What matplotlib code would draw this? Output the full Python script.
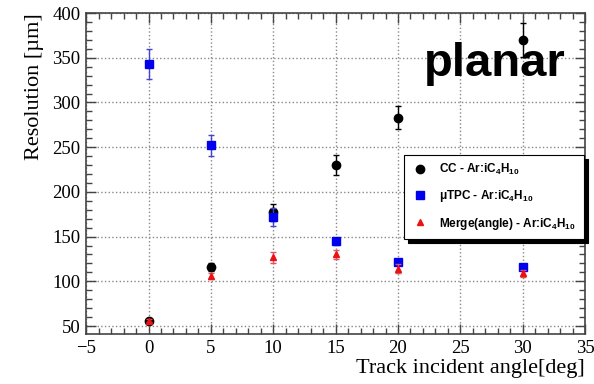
import matplotlib
matplotlib.use("Agg")
import matplotlib.pyplot as plt
from matplotlib.ticker import MultipleLocator
from matplotlib.lines import Line2D

angles = [0, 5, 10, 15, 20, 30]
cc_res = [56, 116, 177, 230, 283, 370]
cc_err = [2, 4, 9, 11, 13, 19]
utpc_res = [343, 252, 172, 145, 122, 116]
utpc_err = [17, 12, 10, 4, 3, 3]
merge_res = [56, 106, 127, 130, 114, 109]
merge_err = [2, 3, 6, 5, 5, 4]

labels = [r"CC - Ar:iC$_\mathbf{4}$H$_\mathbf{10}$",
          r"$\mathbf{\mu}$TPC - Ar:iC$_\mathbf{4}$H$_\mathbf{10}$",
          r"Merge(angle) - Ar:iC$_\mathbf{4}$H$_\mathbf{10}$"]

plt.rcParams['mathtext.fontset'] = 'custom'
plt.rcParams['mathtext.rm'] = 'Liberation Sans'
plt.rcParams['mathtext.bf'] = 'Liberation Sans:bold'
plt.rcParams['mathtext.it'] = 'Liberation Sans:italic'
plt.rcParams['mathtext.sf'] = 'Liberation Sans'

fig = plt.figure(figsize=(5.94, 3.84), dpi=100)
ax = fig.add_axes([0.145, 0.130, 0.840, 0.836])

cc_col, utpc_col, merge_col = 'black', '#0000ee', '#ee1111'
ax.errorbar(angles, cc_res, yerr=cc_err, fmt='o', color=cc_col, ms=6,
            elinewidth=1, capsize=2.5, zorder=3)
ax.errorbar(angles, utpc_res, yerr=utpc_err, fmt='s', color=utpc_col, ms=6,
            ecolor='#4444cc', elinewidth=1, capsize=2.5, zorder=4)
ax.errorbar(angles, merge_res, yerr=merge_err, fmt='^', color=merge_col, ms=5,
            ecolor='#dd5566', elinewidth=1, capsize=2.5, zorder=5)

ax.set_xlim(-5, 35)
ax.set_ylim(41, 400)
ax.xaxis.set_major_locator(MultipleLocator(5))
ax.xaxis.set_minor_locator(MultipleLocator(1))
ax.yaxis.set_major_locator(MultipleLocator(50))
ax.yaxis.set_minor_locator(MultipleLocator(10))
ax.tick_params(which='both', direction='in', top=True, right=True, color='#444444')
ax.tick_params(which='major', length=7, width=1)
ax.tick_params(which='minor', length=4, width=1)
ax.tick_params(axis='both', labelsize=13.5, pad=4)
for lab in ax.get_xticklabels() + ax.get_yticklabels():
    lab.set_family('Liberation Serif')
ax.grid(True, which='major', linestyle=':', color='#888888', linewidth=1)
for s in ax.spines.values():
    s.set_color('#444444')
    s.set_linewidth(1.2)

ax.set_xlabel('Track incident angle[deg]', family='Liberation Serif', fontsize=16,
              loc='right', labelpad=2)
ax.set_ylabel('Resolution [µm]', family='Liberation Serif', fontsize=16,
              loc='top', labelpad=6)

ax.text(0.962, 0.84, 'planar', transform=ax.transAxes, ha='right', va='center',
        family='Liberation Sans', fontweight='bold', fontsize=34, zorder=6)

handles = [Line2D([], [], ls='none', marker='o', color=cc_col, ms=6),
           Line2D([], [], ls='none', marker='s', color=utpc_col, ms=6),
           Line2D([], [], ls='none', marker='^', color=merge_col, ms=5)]
leg = ax.legend(handles, labels, loc='upper left', bbox_to_anchor=(0.637, 0.308, 0.361, 0.25),
                mode='expand', frameon=True, fancybox=False,
                shadow={'color': 'black', 'alpha': 1, 'ox': 3, 'oy': -3},
                edgecolor='black', labelspacing=0.95, handletextpad=0.8, handlelength=1.6,
                borderpad=0.6, prop={'family': 'Liberation Sans', 'weight': 'bold', 'size': 8.5},
                borderaxespad=0)
leg.get_frame().set_linewidth(0.8)
leg.set_zorder(10)

fig.savefig('out.png', dpi=100)
